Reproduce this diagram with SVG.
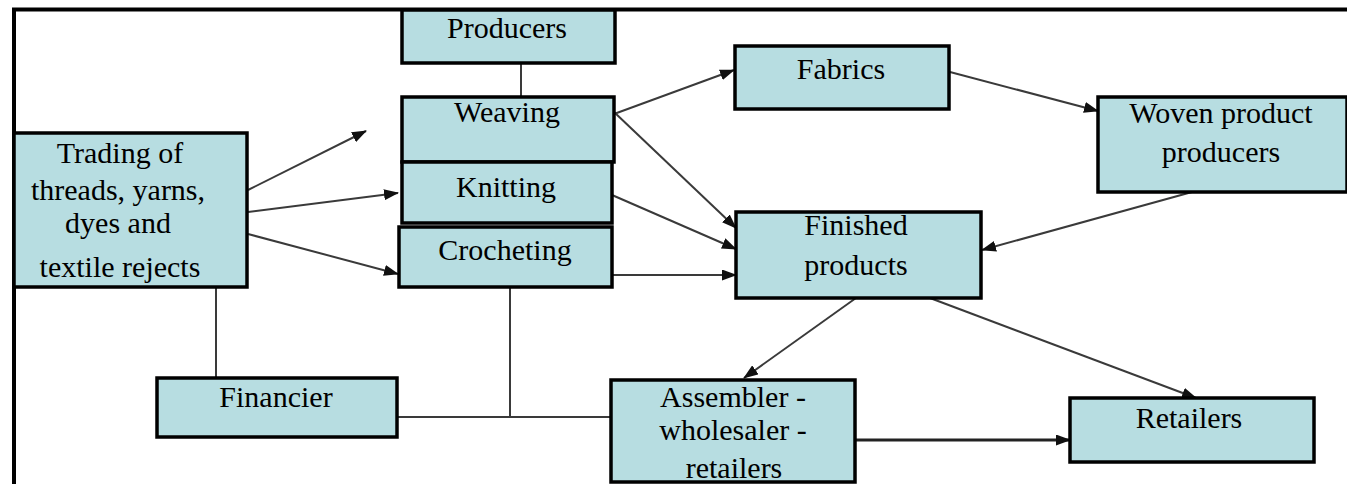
<svg xmlns="http://www.w3.org/2000/svg" width="1347" height="484" viewBox="0 0 1347 484">
<style>
.box{fill:#b7dde1;stroke:#000;stroke-width:3.5}
.t{font-family:"Liberation Serif","Times New Roman",serif;font-size:30px;fill:#000;text-anchor:middle}
.c{stroke:#3a3a3a;stroke-width:2;fill:none}
.ca{stroke:#3a3a3a;stroke-width:2;fill:none;marker-end:url(#ah)}
.frame{stroke:#000;stroke-width:4;fill:none}
</style>
<defs>
<marker id="ah" viewBox="0 0 15 11" refX="14" refY="5.5" markerWidth="15" markerHeight="11" markerUnits="userSpaceOnUse" orient="auto">
<path d="M0,0 L15,5.5 L0,11 z" fill="#111"/>
</marker>
</defs>
<rect width="1347" height="484" fill="#fff"/>
<path class="frame" d="M14,484 V9.5 H1347"/>
<g id="connectors">
<line class="ca" x1="248" y1="190" x2="366" y2="131"/>
<line class="ca" x1="248" y1="212" x2="398" y2="193"/>
<line class="ca" x1="248" y1="234" x2="398" y2="274"/>
<line class="c" x1="521" y1="63" x2="521" y2="97"/>
<line class="ca" x1="614" y1="114" x2="734" y2="70"/>
<line class="ca" x1="614" y1="112" x2="736" y2="228"/>
<line class="ca" x1="612" y1="195" x2="736" y2="249"/>
<line class="ca" x1="612" y1="275" x2="736" y2="275"/>
<line class="ca" x1="950" y1="72" x2="1098" y2="111"/>
<line class="ca" x1="1192" y1="192" x2="982" y2="250"/>
<line class="ca" x1="856" y1="298" x2="744" y2="378"/>
<line class="ca" x1="930" y1="298" x2="1196" y2="398"/>
<line class="ca" x1="855" y1="440" x2="1070" y2="440" style="stroke-width:3;stroke:#222"/>
<line class="c" x1="216" y1="287" x2="216" y2="378"/>
<line class="c" x1="510" y1="287" x2="510" y2="417"/>
<polyline class="c" points="397,417 610,417"/>
</g>
<g id="producers">
<rect class="box" x="402" y="10" width="213" height="53"/>
<text class="t" x="507" y="38">Producers</text>
</g>
<g id="weaving">
<rect class="box" x="402" y="97" width="212" height="65"/>
<text class="t" x="507" y="122">Weaving</text>
</g>
<g id="knitting">
<rect class="box" x="402" y="162" width="210" height="61"/>
<text class="t" x="506" y="197">Knitting</text>
</g>
<g id="crocheting">
<rect class="box" x="399" y="227" width="213" height="60"/>
<text class="t" x="505" y="260">Crocheting</text>
</g>
<g id="trading">
<rect class="box" x="14" y="133" width="233" height="154"/>
<text class="t" x="120" y="163">Trading of</text>
<text class="t" x="118" y="200">threads, yarns,</text>
<text class="t" x="118" y="233">dyes and</text>
<text class="t" x="120" y="277">textile rejects</text>
</g>
<g id="fabrics">
<rect class="box" x="735" y="46" width="214" height="63"/>
<text class="t" x="841" y="79">Fabrics</text>
</g>
<g id="woven">
<rect class="box" x="1098" y="97" width="249" height="95"/>
<text class="t" x="1221" y="123">Woven product</text>
<text class="t" x="1221" y="162">producers</text>
</g>
<g id="finished">
<rect class="box" x="736" y="212" width="245" height="86"/>
<text class="t" x="856" y="235">Finished</text>
<text class="t" x="856" y="275">products</text>
</g>
<g id="financier">
<rect class="box" x="157" y="378" width="240" height="59"/>
<text class="t" x="276" y="407">Financier</text>
</g>
<g id="assembler">
<rect class="box" x="611" y="380" width="244" height="102"/>
<text class="t" x="733" y="407">Assembler -</text>
<text class="t" x="733" y="440">wholesaler -</text>
<text class="t" x="734" y="478">retailers</text>
</g>
<g id="retailers">
<rect class="box" x="1070" y="398" width="244" height="64"/>
<text class="t" x="1189" y="428">Retailers</text>
</g>
</svg>
